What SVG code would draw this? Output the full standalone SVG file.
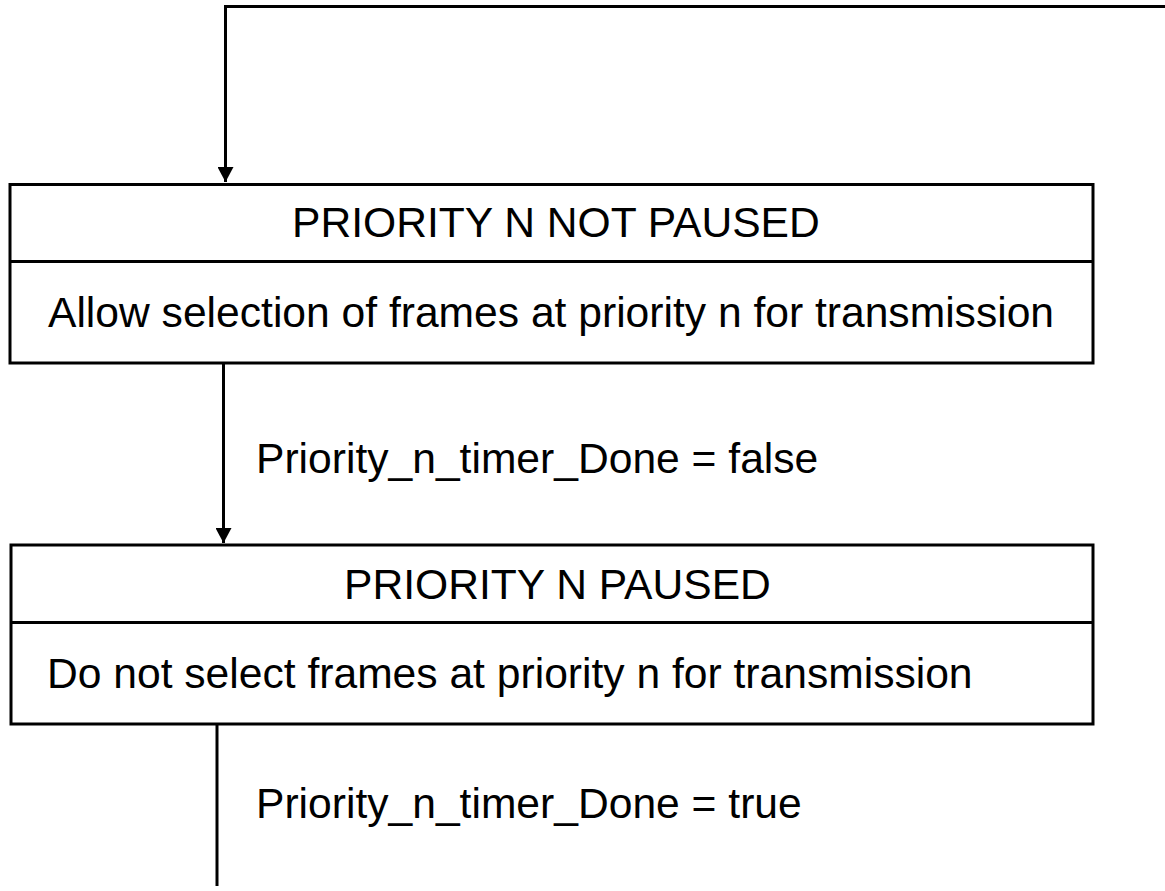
<svg xmlns="http://www.w3.org/2000/svg" width="1165" height="891" viewBox="0 0 1165 891">
<style>
.box{fill:#fff;stroke:#000;stroke-width:3}
.div{stroke:#000;stroke-width:3}
.t{font-family:"Liberation Sans",Arial,sans-serif;font-size:42.6px;fill:#000}
.c{fill:none;stroke:#000;stroke-width:3}
</style>
<defs>
<marker id="ah" markerUnits="userSpaceOnUse" markerWidth="16" markerHeight="16" refX="15" refY="8" orient="auto">
<path d="M0,0 L15,8 L0,16 Z" fill="#000"/>
</marker>
</defs>
<rect width="1165" height="891" fill="#fff"/>
<g id="connectors">
<path class="c" d="M1165,6.5 H225.5 V182" marker-end="url(#ah)"/>
<path class="c" d="M223.5,363 V543" marker-end="url(#ah)"/>
<path class="c" d="M217,724 V886"/>
</g>
<g id="node-not-paused">
<rect class="box" x="10" y="184.5" width="1083" height="178.5"/>
<line class="div" x1="10" y1="261.5" x2="1093" y2="261.5"/>
<text class="t" x="292" y="237">PRIORITY N NOT PAUSED</text>
<text class="t" x="48" y="327">Allow selection of frames at priority n for transmission</text>
</g>
<g id="node-paused">
<rect class="box" x="11" y="545" width="1082" height="179"/>
<line class="div" x1="11" y1="622.5" x2="1093" y2="622.5"/>
<text class="t" x="344" y="599">PRIORITY N PAUSED</text>
<text class="t" x="47" y="688">Do not select frames at priority n for transmission</text>
</g>
<g id="labels">
<text class="t" x="256" y="473">Priority_n_timer_Done = false</text>
<text class="t" x="256" y="818">Priority_n_timer_Done = true</text>
</g>
</svg>
